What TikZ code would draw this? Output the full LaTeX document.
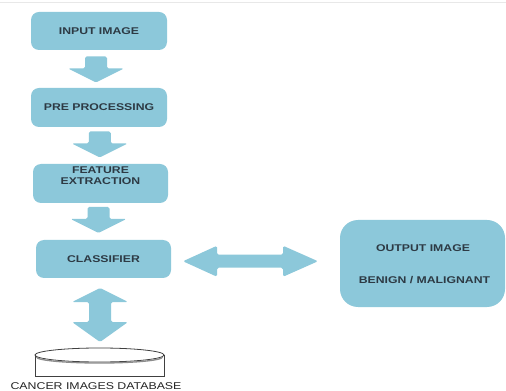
\documentclass[tikz,border=0pt]{standalone}
\usepackage{fontspec}
\setmainfont{Liberation Sans}
\newfontfamily\lblfont[FakeStretch=1.25]{Liberation Sans}
\usetikzlibrary{calc}
\definecolor{boxblue}{RGB}{140,200,218}
\definecolor{txt}{RGB}{45,58,68}
\begin{document}
\begin{tikzpicture}[x=0.75pt,y=-0.75pt,
  lbl/.style={text=txt, font=\lblfont\bfseries\fontsize{7.35}{7.6}\selectfont, align=center, inner sep=0pt},
  box/.style={lbl, fill=boxblue, rounded corners=6pt},
  downarr/.pic={\fill[boxblue, rounded corners=1.2pt] (-11,-13) -- (11,-13) -- (11,-1) -- (28,-1) -- (0,13) -- (-28,-1) -- (-11,-1) -- cycle;},
  hdbl/.pic={\fill[boxblue, rounded corners=1.2pt] (-67.5,0) -- (-33.5,-15.5) -- (-33.5,-6.5) -- (32.5,-6.5) -- (32.5,-15.5) -- (67.5,0) -- (32.5,15.5) -- (32.5,6.5) -- (-33.5,6.5) -- (-33.5,15.5) -- cycle;},
  vdbl/.pic={\fill[boxblue, rounded corners=1.2pt] (0,-27) -- (28,-13) -- (11,-13) -- (11,7) -- (28,7) -- (0,27) -- (-28,7) -- (-11,7) -- (-11,-13) -- (-28,-13) -- cycle;}
]
\useasboundingbox (0,0) rectangle (506,391);
\fill[white] (0,0) rectangle (506,391);
\draw[gray!18, line width=0.75pt] (0,3) -- (506,3);

\node[box, minimum width=102pt, minimum height=28.5pt] (in) at (99,31) {INPUT IMAGE};
\node[box, minimum width=102pt, minimum height=29.25pt] (pre) at (99,107.5) {PRE PROCESSING};
\node[box, minimum width=101.25pt, minimum height=29.25pt] (fe) at (100.5,183.5) {};
\node[lbl, font=\lblfont\bfseries\fontsize{7.35}{7.9}\selectfont] (fetxt) at (100.5,175.5) {FEATURE\\EXTRACTION};
\node[box, minimum width=101.25pt, minimum height=28.5pt] (cls) at (103.5,259) {CLASSIFIER};
\node[box, minimum width=123.75pt, minimum height=65.25pt, rounded corners=13.5pt] (out) at (422.5,263.5) {};
\node[lbl] (outa) at (423,248) {OUTPUT IMAGE};
\node[lbl] (outb) at (424.5,280) {BENIGN / MALIGNANT};

\node[minimum width=96.75pt, minimum height=21pt, inner sep=0pt] (db) at (99.5,362) {};
\draw[black!75, line width=0.6pt, fill=white] ($(db.center)+(-64.5,-7)$) -- ($(db.center)+(-64.5,14)$) -- ($(db.center)+(64.5,14)$) -- ($(db.center)+(64.5,-7)$);
\draw[black!75, line width=0.6pt, fill=white] ($(db.center)+(0,-7)$) ellipse [x radius=64.5, y radius=7];
\draw[black!45, line width=1pt] ($(db.center)+(63,-5)$) arc[start angle=0, end angle=180, x radius=63, y radius=6];
\node[anchor=base, text=black!85, font=\lblfont\fontsize{7.4}{8}\selectfont, inner sep=0pt] (dblbl) at (96,389.5) {CANCER IMAGES DATABASE};

\path ($(in.south)!0.5!(pre.north)+(-3,0.5)$) pic{downarr};
\path ($(pre.south)!0.5!(fe.north)+(0,-1)$) pic{downarr};
\path ($(fe.south)!0.5!(cls.north)+(-3.5,-1.5)$) pic{downarr};
\path ($(cls.east)!0.5!(out.west)+(-5,0)$) pic{hdbl};
\path ($(cls.south)!0.5!(db.north)+(-1.5,2)$) pic{vdbl};
\end{tikzpicture}
\end{document}
